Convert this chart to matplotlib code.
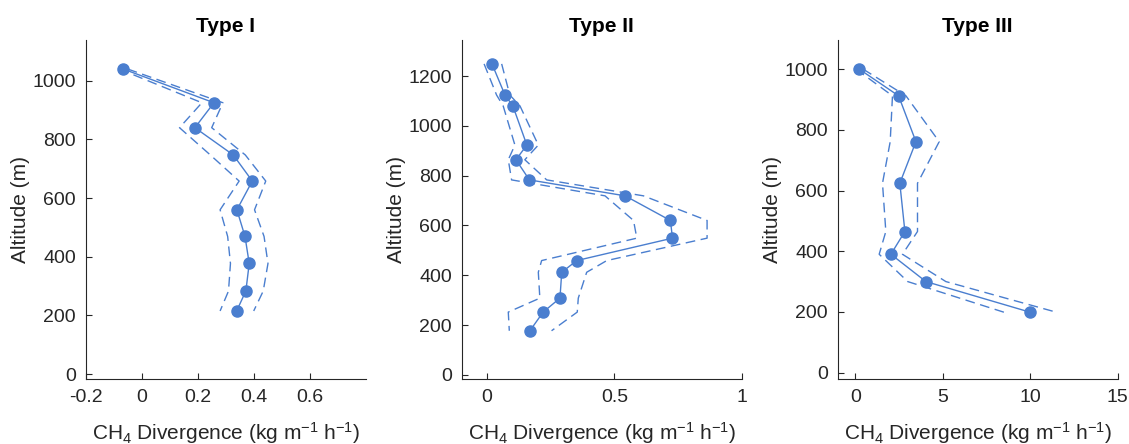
import numpy as np
import matplotlib
matplotlib.use('Agg')
import matplotlib.pyplot as plt

plt.rcParams['font.family'] = ['Liberation Sans', 'DejaVu Sans']
plt.rcParams['mathtext.fontset'] = 'custom'
plt.rcParams['mathtext.rm'] = 'Liberation Sans'
plt.rcParams['mathtext.it'] = 'Liberation Sans:italic'

# Type I profile
alt_1 = [1040, 925, 840, 747, 658, 560, 469, 377, 283, 215]
div_1 = [-0.066, 0.258, 0.190, 0.327, 0.395, 0.340, 0.369, 0.384, 0.372, 0.339]
low_1 = [-0.08, 0.215, 0.135, 0.245, 0.348, 0.280, 0.307, 0.317, 0.310, 0.280]
upp_1 = [-0.05, 0.290, 0.250, 0.370, 0.443, 0.403, 0.437, 0.451, 0.434, 0.400]

# Type II profile
alt_2 = [1249, 1124, 1080, 923, 864, 783, 719, 620, 549, 459, 412, 308, 252, 177]
div_2 = [0.019, 0.070, 0.101, 0.156, 0.113, 0.166, 0.542, 0.720, 0.728, 0.352, 0.293, 0.286, 0.220, 0.168]
low_2 = [-0.012, 0.037, 0.063, 0.109, 0.083, 0.096, 0.463, 0.575, 0.588, 0.214, 0.201, 0.207, 0.083, 0.087]
upp_2 = [0.057, 0.089, 0.129, 0.201, 0.148, 0.234, 0.614, 0.864, 0.864, 0.470, 0.391, 0.358, 0.354, 0.253]

# Type III profile
alt_3 = [1000, 912, 761, 624, 465, 390, 300, 199]
div_3 = [0.23, 2.48, 3.47, 2.55, 2.84, 2.04, 4.04, 10.0]
low_3 = [0.05, 2.13, 2.0, 1.56, 1.75, 1.37, 3.0, 8.5]
upp_3 = [0.45, 2.9, 4.8, 3.56, 3.56, 2.7, 5.18, 11.5]

titles = ['Type I', 'Type II', 'Type III']
xlims = [(-0.2, 0.8), (-0.1, 1.0), (-1, 15)]
xticks = [[-0.2, 0, 0.2, 0.4, 0.6], [0, 0.5, 1], [0, 5, 10, 15]]
xticklabels = [['-0.2', '0', '0.2', '0.4', '0.6'], ['0', '0.5', '1'], ['0', '5', '10', '15']]
ylims = [(-18, 1139), (-18, 1345), (-22, 1096)]
yticks = [[0, 200, 400, 600, 800, 1000], [0, 200, 400, 600, 800, 1000, 1200], [0, 200, 400, 600, 800, 1000]]

profiles = [(alt_1, div_1, low_1, upp_1), (alt_2, div_2, low_2, upp_2), (alt_3, div_3, low_3, upp_3)]

blue = '#4A7ECF'
dark = '#262626'

fig = plt.figure(figsize=(11.29, 4.44), dpi=100)
lefts = [85.7 / 1129, 461.7 / 1129, 837.7 / 1129]
for i in range(3):
    ax = fig.add_axes([lefts[i], (444 - 379.3) / 444, 280 / 1129, 339.3 / 444])
    alt, div, low, upp = profiles[i]
    ax.plot(low, alt, color=blue, lw=1.0, dashes=(7, 4))
    ax.plot(upp, alt, color=blue, lw=1.0, dashes=(7, 4))
    ax.plot(div, alt, color=blue, lw=1.0, marker='o', ms=8, mec=blue, mfc=blue)
    ax.set_xlim(xlims[i])
    ax.set_ylim(ylims[i])
    ax.set_xticks(xticks[i])
    ax.set_xticklabels(xticklabels[i])
    ax.set_yticks(yticks[i])
    for s in ['top', 'right']:
        ax.spines[s].set_visible(False)
    for s in ['left', 'bottom']:
        ax.spines[s].set_color(dark)
        ax.spines[s].set_linewidth(0.8)
    ax.tick_params(direction='in', length=4, width=0.8, colors=dark, labelsize=14, pad=7)
    ax.set_title(titles[i], fontsize=15, fontweight='bold', color='black', pad=6)
    ax.set_ylabel('Altitude (m)', fontsize=15, color=dark)
    ax.yaxis.set_label_coords(-0.2, 0.5)
    ax.set_xlabel(r'CH$_4$ Divergence (kg m$^{-1}$ h$^{-1}$)', fontsize=15, color=dark)
    ax.xaxis.set_label_coords(0.5, -0.12)

fig.savefig('out.png', dpi=100)
